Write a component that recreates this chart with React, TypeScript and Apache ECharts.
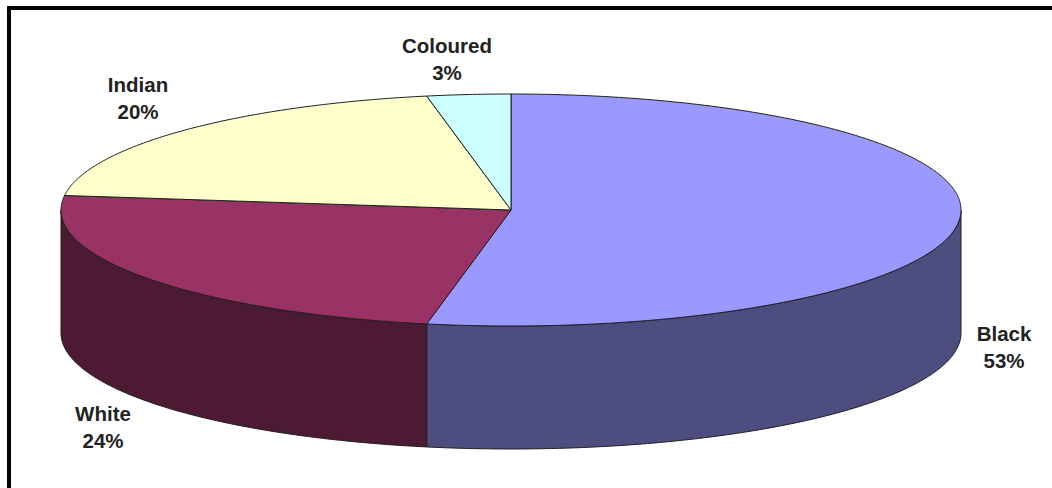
import React, { useEffect, useRef } from "react";
import * as echarts from "echarts";

const categories = ["Black", "White", "Indian", "Coloured"];
const shares = [53, 24, 20, 3];
const topColors = ["#9999FF", "#993366", "#FFFFCC", "#CCFFFF"];
const sideColors = ["#4D4D7F", "#4D1A33", "#80806A", "#6A8080"];

// Disc geometry in pixels: centre of the upper face, radii and wall height.
const CX = 511;
const CY = 210;
const RX = 450;
const RY = 116;
const DEPTH = 123;

// Centre of each two-line label.
const labelCentres = [
  [1004, 347],
  [103, 427],
  [138, 98],
  [447, 59],
];

const STEP = Math.PI / 360;

function rimPoint(angle: number, drop: number): number[] {
  return [CX + RX * Math.sin(angle), CY - RY * Math.cos(angle) + drop];
}

function arcPoints(from: number, to: number, drop: number): number[][] {
  const pts: number[][] = [];
  const n = Math.max(2, Math.ceil((to - from) / STEP));
  for (let i = 0; i <= n; i++) pts.push(rimPoint(from + ((to - from) * i) / n, drop));
  return pts;
}

const total = shares.reduce((a, b) => a + b, 0);

function renderSlice(params: any) {
  const i = params.dataIndex;
  const before = shares.slice(0, i).reduce((a, b) => a + b, 0);
  const start = (before / total) * 2 * Math.PI;
  const end = ((before + shares[i]) / total) * 2 * Math.PI;
  const children: any[] = [];
  const edge = { stroke: "#1f1f1f", lineWidth: 1 };

  // The wall only shows on the front half of the disc.
  const wallFrom = Math.max(start, Math.PI / 2);
  const wallTo = Math.min(end, (3 * Math.PI) / 2);
  if (wallTo > wallFrom) {
    const upper = arcPoints(wallFrom, wallTo, 0);
    const lower = arcPoints(wallFrom, wallTo, DEPTH).reverse();
    children.push({
      type: "polygon",
      shape: { points: upper.concat(lower) },
      style: { fill: sideColors[i], ...edge },
    });
  }

  children.push({
    type: "polygon",
    shape: { points: [[CX, CY] as number[]].concat(arcPoints(start, end, 0)) },
    style: { fill: topColors[i], ...edge },
  });

  children.push({
    type: "text",
    style: {
      x: labelCentres[i][0],
      y: labelCentres[i][1],
      text: `${categories[i]}\n${shares[i]}%`,
      fill: "#222222",
      font: 'bold 20.5px "Liberation Sans", Arial, sans-serif',
      lineHeight: 27,
      align: "center",
      verticalAlign: "middle",
    },
  });

  return { type: "group", children };
}

export default function App() {
  const ref = useRef<HTMLDivElement>(null);

  useEffect(() => {
    const chart = echarts.init(ref.current!, null, { renderer: "svg" });
    chart.setOption({
      animation: false,
      backgroundColor: "#ffffff",
      graphic: [
        {
          type: "polyline",
          shape: { points: [[9, 488], [9, 8], [1052, 8]] },
          style: { stroke: "#000000", lineWidth: 4, fill: "none" },
        },
      ],
      series: [
        {
          type: "custom",
          coordinateSystem: "none",
          renderItem: renderSlice,
          data: shares,
        },
      ],
    });
    return () => chart.dispose();
  }, []);

  return <div ref={ref} style={{ position: "absolute", left: 0, top: 0, width: 1052, height: 488 }} />;
}
